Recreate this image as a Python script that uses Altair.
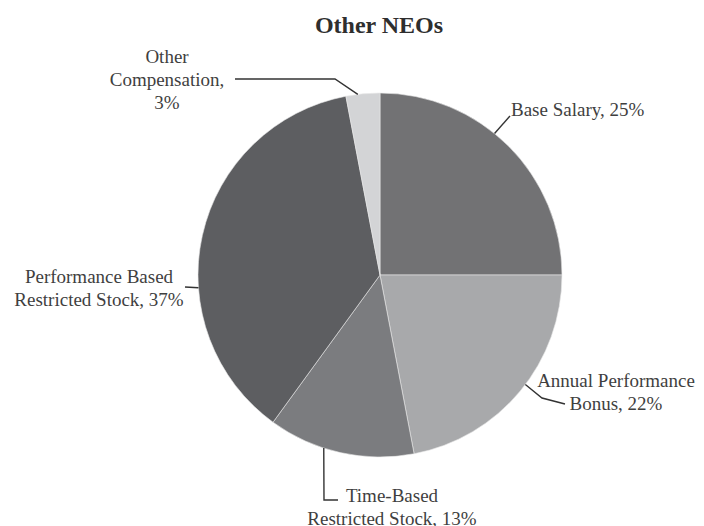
import math
import altair as alt
import pandas as pd

# ---- data ----
categories = [
    "Base Salary",
    "Annual Performance Bonus",
    "Time-Based Restricted Stock",
    "Performance Based Restricted Stock",
    "Other Compensation",
]
shares = [25, 22, 13, 37, 3]
label_texts = [
    "Base Salary, 25%",
    "Annual Performance\nBonus, 22%",
    "Time-Based\nRestricted Stock, 13%",
    "Performance Based\nRestricted Stock, 37%",
    "Other\nCompensation,\n3%",
]
title_text = "Other NEOs"

# ---- styling / layout (page pixel coordinates) ----
slice_colors = ["#727274", "#a8a9ab", "#7b7c7f", "#5d5e61", "#d3d4d6"]
W, H, M = 688, 518, 8
CX, CY, R = 380, 275, 182
leader_angles = [39, 127, 198, 266, 353]
leader_bends = [
    [(510, 116)],
    [(542, 398), (565, 404)],
    [(324, 500), (338, 500)],
    [(185, 287)],
    [(335, 79), (235, 79)],
]
label_anchor = [
    (511, 116, "left"),
    (616, 387, "center"),
    (392, 502, "center"),
    (99, 283, "center"),
    (167, 63, "center"),
]
title_anchor = (379, 33)

xs = alt.Scale(domain=[M, M + W], range=[0, W])
ys = alt.Scale(domain=[M, M + H], range=[0, H])

pie_df = pd.DataFrame({"category": categories, "share": shares, "idx": range(len(shares))})

pie = alt.Chart(pie_df).mark_arc(outerRadius=R, stroke="#e8e8e8", strokeWidth=0.6).encode(
    theta=alt.Theta("share:Q", stack=True),
    order=alt.Order("idx:Q"),
    color=alt.Color("category:N", scale=alt.Scale(domain=categories, range=slice_colors), legend=None),
    x=alt.value(CX - M),
    y=alt.value(CY - M),
)

# leader lines
rows = []
for i, (ang, bends) in enumerate(zip(leader_angles, leader_bends)):
    a = math.radians(ang)
    pts = [(CX + R * math.sin(a), CY - R * math.cos(a))] + bends
    for j, (px, py) in enumerate(pts):
        rows.append({"lbl": categories[i], "pt": j, "px": px, "py": py})
lead_df = pd.DataFrame(rows)

leaders = alt.Chart(lead_df).mark_line(color="#333333", strokeWidth=1.4).encode(
    x=alt.X("px:Q", scale=xs, axis=None),
    y=alt.Y("py:Q", scale=ys, axis=None),
    detail="lbl:N",
    order=alt.Order("pt:Q"),
)

lab_df = pd.DataFrame({
    "text": label_texts,
    "px": [p[0] for p in label_anchor],
    "py": [p[1] for p in label_anchor],
    "al": [p[2] for p in label_anchor],
})

def text_layer(align):
    return alt.Chart(lab_df[lab_df["al"] == align]).mark_text(
        align=align, baseline="alphabetic", font="Liberation Serif", fontSize=19,
        lineHeight=23, lineBreak="\n", color="#3f3f3f",
    ).encode(
        x=alt.X("px:Q", scale=xs, axis=None),
        y=alt.Y("py:Q", scale=ys, axis=None),
        text="text:N",
    )

title_df = pd.DataFrame({"text": [title_text], "px": [title_anchor[0]], "py": [title_anchor[1]]})
title = alt.Chart(title_df).mark_text(
    align="center", baseline="alphabetic", font="Liberation Serif", fontSize=24,
    fontWeight="bold", color="#2e2e2e",
).encode(
    x=alt.X("px:Q", scale=xs, axis=None),
    y=alt.Y("py:Q", scale=ys, axis=None),
    text="text:N",
)

chart = alt.layer(pie, leaders, text_layer("left"), text_layer("center"), title).properties(
    width=W, height=H, autosize=alt.AutoSizeParams(type="none"), padding=0,
).configure_view(stroke=None).resolve_scale(color="independent")

chart.save("out.html", embed_options={"renderer": "svg", "actions": False})
